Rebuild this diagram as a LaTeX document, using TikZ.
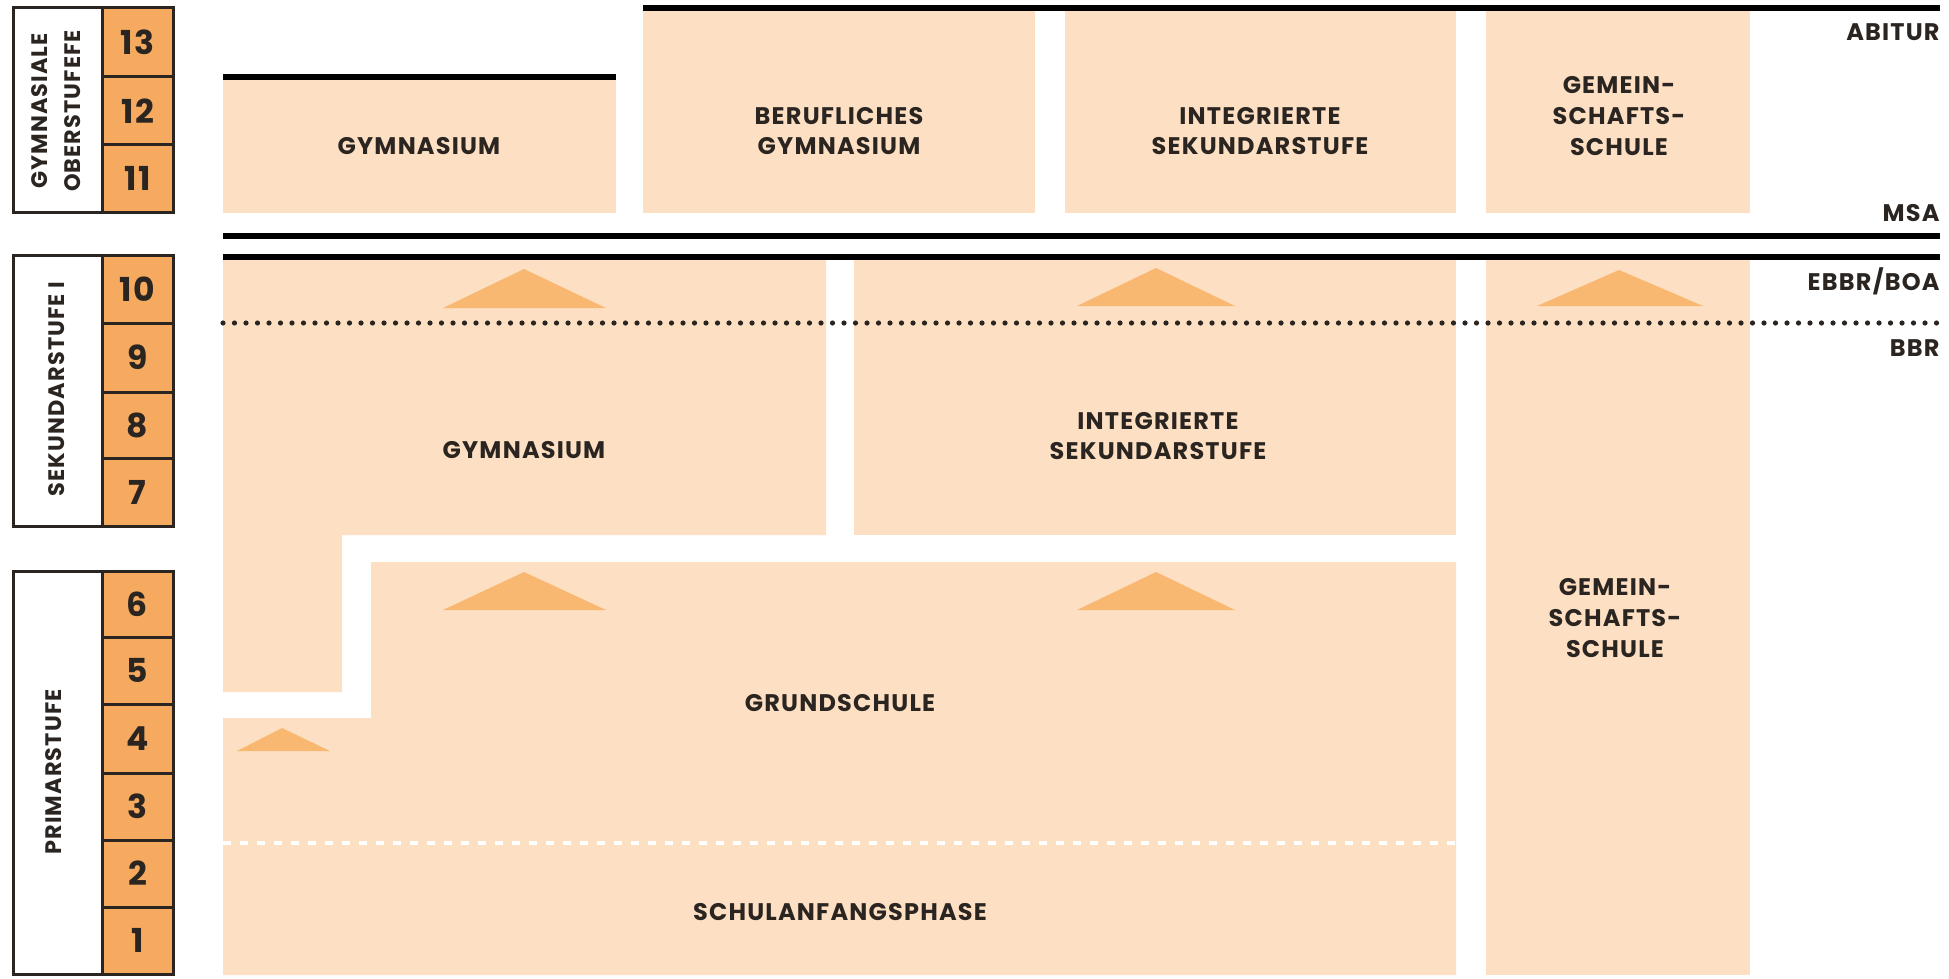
\documentclass[tikz,border=0pt]{standalone}
\usepackage{fontspec}
\setmainfont{Poppins}[LetterSpace=5]
\definecolor{peach}{HTML}{FDDFC3}
\definecolor{tri}{HTML}{F9B871}
\definecolor{cellc}{HTML}{F5AA5F}
\definecolor{ink}{HTML}{2B2521}
\begin{document}
\begin{tikzpicture}[x=0.5pt,y=-0.5pt,
  lab/.style={font=\bfseries\fontsize{12}{15.3}\selectfont, text=ink, align=center, inner sep=0pt},
  num/.style={font=\bfseries\fontsize{16.5}{18}\selectfont, text=ink, inner sep=0pt},
  vlab/.style={font=\bfseries\fontsize{11.2}{16.5}\selectfont, text=ink, rotate=90, align=center, inner sep=0pt},
  rlab/.style={font=\bfseries\fontsize{12}{14}\selectfont, text=ink, anchor=east, inner sep=0pt},
  bar/.style={line width=3pt, draw=black},
  frame/.style={line width=1.5pt, draw=ink},
  cellbox/.style={frame, fill=cellc},
  arrowtri/.style={fill=tri},
  dotline/.style={line width=2.6pt, draw=ink, line cap=round, dash pattern=on 0pt off 5.75pt},
  wdash/.style={line width=2.2pt, draw=white, dash pattern=on 4pt off 4.5pt}]
\useasboundingbox (0,0) rectangle (1949,979);
\fill[white] (0,0) rectangle (1949,979);

% ---------- peach blocks ----------
\fill[peach] (223,77) rectangle (616,213);
\fill[peach] (643,8) rectangle (1035,213);
\fill[peach] (1065,8) rectangle (1456,213);
\fill[peach] (1486,8) rectangle (1750,213);
\fill[peach] (223,257) -- (826,257) -- (826,535) -- (342,535) -- (342,692) -- (223,692) -- cycle;
\fill[peach] (854,257) rectangle (1456,535);
\fill[peach] (371,562) -- (1456,562) -- (1456,975) -- (223,975) -- (223,718) -- (371,718) -- cycle;
\fill[peach] (1486,257) rectangle (1750,975);

% ---------- triangles ----------
\fill[arrowtri] (443,308) -- (524,269) -- (606,308) -- cycle;
\fill[arrowtri] (1077,306) -- (1156,268) -- (1235,306) -- cycle;
\fill[arrowtri] (1537,306) -- (1619,270) -- (1703,306) -- cycle;
\fill[arrowtri] (443,610) -- (524,572) -- (606,610) -- cycle;
\fill[arrowtri] (1077,610) -- (1156,572) -- (1235,610) -- cycle;
\fill[arrowtri] (237,751) -- (282,728) -- (330,751) -- cycle;

% ---------- lines ----------
\coordinate (abL) at (643,8);   \coordinate (abR) at (1940,8);
\coordinate (gyL) at (223,77);  \coordinate (gyR) at (616,77);
\coordinate (m1L) at (223,236); \coordinate (m1R) at (1940,236);
\coordinate (m2L) at (223,257); \coordinate (m2R) at (1940,257);
\coordinate (dtL) at (223,323); \coordinate (dtR) at (1940,323);
\coordinate (wdL) at (223,843); \coordinate (wdR) at (1456,843);
\draw[bar] (abL) -- (abR);
\draw[bar] (gyL) -- (gyR);
\draw[bar] (m1L) -- (m1R);
\draw[bar] (m2L) -- (m2R);
\draw[dotline] (dtL) -- (dtR);
\draw[wdash] (wdL) -- (wdR);

% ---------- school labels ----------
\node[lab] (gymO) at (419,146) {GYMNASIUM};
\node[lab] (bgym) at (839,131) {BERUFLICHES\\GYMNASIUM};
\node[lab] (issO) at (1260,131) {INTEGRIERTE\\SEKUNDARSTUFE};
\node[lab] (gsO) at (1619,116) {GEMEIN-\\SCHAFTS-\\SCHULE};
\node[lab] (gymU) at (524,450) {GYMNASIUM};
\node[lab] (issU) at (1158,436) {INTEGRIERTE\\SEKUNDARSTUFE};
\node[lab] (gsU) at (1615,618) {GEMEIN-\\SCHAFTS-\\SCHULE};
\node[lab] (grund) at (840,703) {GRUNDSCHULE};
\node[lab] (sap) at (840,912) {SCHULANFANGSPHASE};

% ---------- right labels ----------
\node[rlab] (abitur) at (1940,32) {ABITUR};
\node[rlab] (msa) at (1940,213) {MSA};
\node[rlab] (ebbr) at (1940,281) {EBBR/BOA};
\node[rlab] (bbr) at (1940,348) {BBR};

% ---------- left scale ----------
\draw[frame, fill=white] (13,8) rectangle (102,212);
\draw[cellbox] (102,8) rectangle (173,77);
\draw[cellbox] (102,77) rectangle (173,145);
\draw[cellbox] (102,145) rectangle (173,212);
\node[num] (g13) at (137.5,42.5) {13};
\node[num] (g12) at (137.5,111) {12};
\node[num] (g11) at (137.5,178.5) {11};
\node[vlab] (lgo) at (56,111) {GYMNASIALE\\OBERSTUFEFE};

\draw[frame, fill=white] (13,255) rectangle (102,526);
\draw[cellbox] (102,255) rectangle (173,323);
\draw[cellbox] (102,323) rectangle (173,392);
\draw[cellbox] (102,392) rectangle (173,458);
\draw[cellbox] (102,458) rectangle (173,526);
\node[num] (g10) at (137.5,289) {10};
\node[num] (g9) at (137.5,357.5) {9};
\node[num] (g8) at (137.5,425) {8};
\node[num] (g7) at (137.5,492) {7};
\node[vlab] (lsek) at (57,389) {SEKUNDARSTUFE I};

\draw[frame, fill=white] (13,571) rectangle (102,974);
\draw[cellbox] (102,571) rectangle (173,637);
\draw[cellbox] (102,637) rectangle (173,704);
\draw[cellbox] (102,704) rectangle (173,773);
\draw[cellbox] (102,773) rectangle (173,840);
\draw[cellbox] (102,840) rectangle (173,907);
\draw[cellbox] (102,907) rectangle (173,974);
\node[num] (g6) at (137.5,604) {6};
\node[num] (g5) at (137.5,670.5) {5};
\node[num] (g4) at (137.5,738.5) {4};
\node[num] (g3) at (137.5,806.5) {3};
\node[num] (g2) at (137.5,873.5) {2};
\node[num] (g1) at (137.5,940.5) {1};
\node[vlab] (lprim) at (54,772) {PRIMARSTUFE};
\end{tikzpicture}
\end{document}
